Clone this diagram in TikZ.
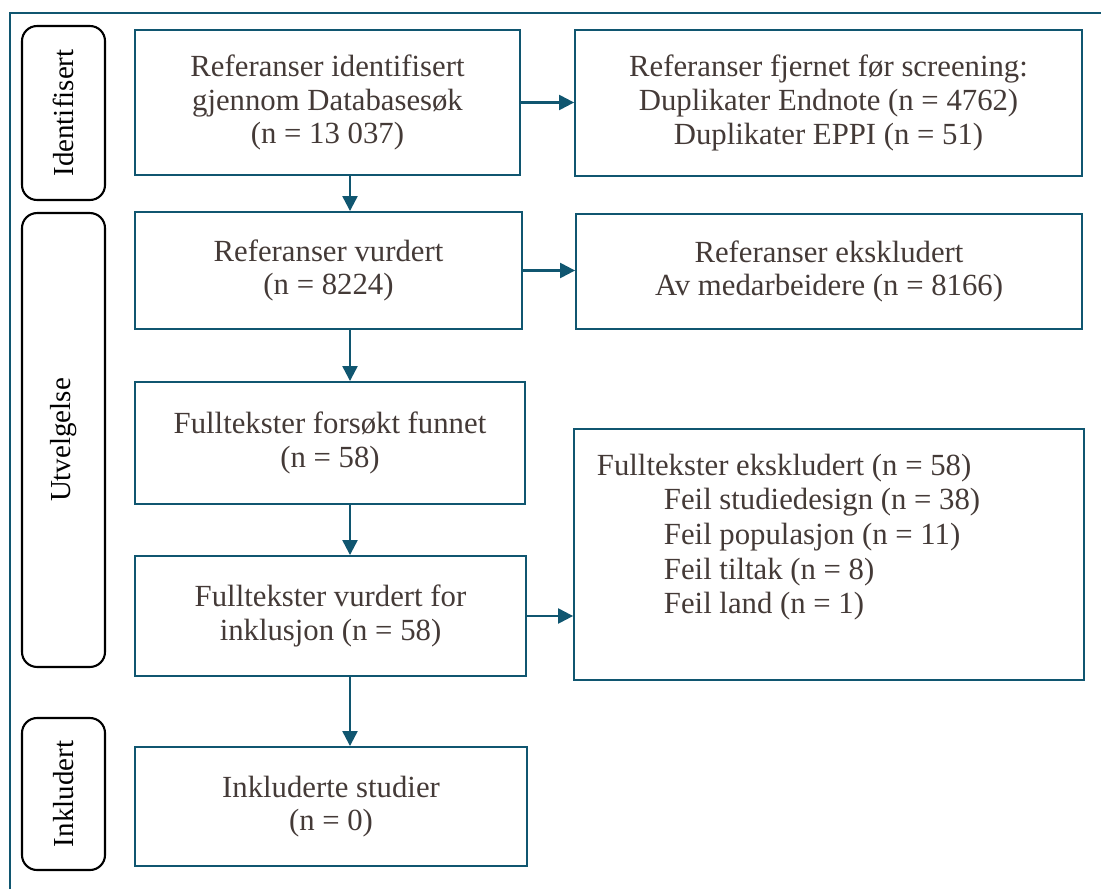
\documentclass[tikz,border=0pt]{standalone}
\usepackage{fontspec}
\setmainfont{Liberation Serif}
\usetikzlibrary{arrows.meta}

\definecolor{prismablue}{RGB}{16,86,112}
\definecolor{txtgray}{RGB}{68,58,55}

\tikzset{
  box/.style={draw=prismablue, line width=1.1pt, text=txtgray, align=center,
    inner sep=0pt, font=\fontsize{17.5}{19.2}\selectfont},
  phase/.style={draw=black, line width=1.2pt, rounded corners=0.3cm, rotate=90,
    inner sep=0pt, font=\fontsize{16.5}{19}\selectfont},
  arr/.style={draw=prismablue, line width=1.3pt, -{Triangle[length=0.3cm,width=0.3cm]}},
}

\begin{document}
\begin{tikzpicture}[x=0.02cm,y=-0.02cm]
  \useasboundingbox (0,0) rectangle (1101,889);
  \draw[prismablue, line width=1.1pt] (10,889) -- (10,13) -- (1101,13);

  \node[phase, minimum width=3.48cm, minimum height=1.66cm] (ident) at (63.5,113) {Identifisert};
  \node[phase, minimum width=9.08cm, minimum height=1.66cm] (utv) at (63.5,440) {Utvelgelse};
  \node[phase, minimum width=3.04cm, minimum height=1.66cm] (inkl) at (63.5,794) {Inkludert};

  \node[box, minimum width=7.7cm, minimum height=2.9cm] (ident1) at (327.5,102.5)
    {Referanser identifisert\\gjennom Databasesøk\\(n = 13 037)};
  \node[box, minimum width=10.14cm, minimum height=2.92cm] (dupl) at (828.5,103)
    {Referanser fjernet før screening:\\Duplikater Endnote (n = 4762)\\Duplikater EPPI (n = 51)};
  \node[box, minimum width=7.74cm, minimum height=2.34cm] (vurd) at (328.5,270.5)
    {Referanser vurdert\\(n = 8224)};
  \node[box, minimum width=10.12cm, minimum height=2.3cm] (eksk) at (829,271.5)
    {Referanser ekskludert\\Av medarbeidere (n = 8166)};
  \node[box, minimum width=7.8cm, minimum height=2.44cm] (funnet) at (330,443)
    {Fulltekster forsøkt funnet\\(n = 58)};
  \node[box, minimum width=7.82cm, minimum height=2.4cm] (fullv) at (330.5,616)
    {Fulltekster vurdert for\\inklusjon (n = 58)};
  \node[box, minimum width=10.2cm, minimum height=5.02cm] (fulle) at (829,554.5) {};
  \node[box, draw=none, align=left, anchor=north west, font=\fontsize{17.5}{19.7}\selectfont]
    (fulletxt) at (596,453)
    {Fulltekster ekskludert (n = 58)\\
     \hspace*{1.34cm}Feil studiedesign (n = 38)\\
     \hspace*{1.34cm}Feil populasjon (n = 11)\\
     \hspace*{1.34cm}Feil tiltak (n = 8)\\
     \hspace*{1.34cm}Feil land (n = 1)};
  \node[box, minimum width=7.84cm, minimum height=2.38cm] (inkst) at (331,806.5)
    {Inkluderte studier\\(n = 0)};

  \coordinate (col) at (350,0);
  \draw[arr] (ident1.south -| col) -- (vurd.north -| col);
  \draw[arr] (vurd.south -| col) -- (funnet.north -| col);
  \draw[arr] (funnet.south -| col) -- (fullv.north -| col);
  \draw[arr] (fullv.south -| col) -- (inkst.north -| col);
  \draw[arr] (ident1.east) -- (ident1.east -| dupl.west);
  \draw[arr] (vurd.east) -- (vurd.east -| eksk.west);
  \draw[arr] (fullv.east) -- (fullv.east -| fulle.west);
\end{tikzpicture}
\end{document}
